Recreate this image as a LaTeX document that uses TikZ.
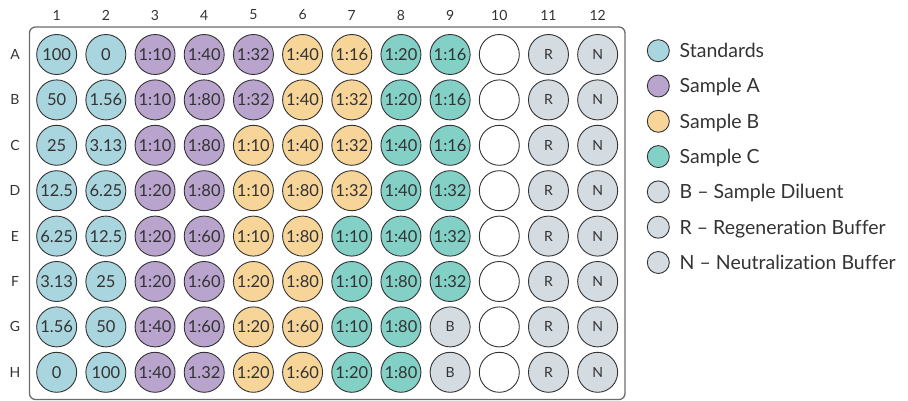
\documentclass[tikz,border=0pt]{standalone}
\usepackage{fontspec}
\setmainfont{Lato}[Ligatures={NoCommon}]
\definecolor{stdcol}{HTML}{A9D5DF}
\definecolor{sacol}{HTML}{B9A4CE}
\definecolor{sbcol}{HTML}{F7D598}
\definecolor{sccol}{HTML}{82D0C6}
\definecolor{bufcol}{HTML}{D4DBE1}
\definecolor{ink}{HTML}{333333}

\begin{document}
\begin{tikzpicture}[x=1pt, y=-1pt,
    well/.style={circle, draw=ink, line width=0.9pt, minimum size=40pt, inner sep=0pt,
      text=ink, font=\fontsize{16.5}{16.5}\selectfont},
    std/.style={well, fill=stdcol},
    sa/.style={well, fill=sacol},
    sb/.style={well, fill=sbcol},
    sc/.style={well, fill=sccol},
    buf/.style={well, fill=bufcol, font=\fontsize{14}{14}\selectfont},
    emptywell/.style={well, fill=white},
    key/.style={circle, draw=ink, line width=0.9pt, minimum size=22pt, inner sep=0pt},
    keytext/.style={anchor=base west, inner sep=0pt, text=ink, font=\fontsize{19.5}{19.5}\selectfont},
    lbl/.style={text=ink, font=\fontsize{14}{14}\selectfont}]
    \useasboundingbox (0,0) rectangle (908,401);

    % Plate outline
    \draw[rounded corners=6pt, line width=1.3pt, draw=gray!85!black] (29.5,27) rectangle (625,399.5);

    % Column and row labels
    \foreach \c in {1,...,12}
        \node[lbl] (col\c) at (7.5+49.18*\c, 15) {\c};
    \foreach \r/\y in {A/54.5, B/99.9, C/145.3, D/190.7, E/236.1, F/281.5, G/326.9, H/372.3}
        \node[lbl] (row\r) at (15, \y) {\r};

    % Wells, row by row
    \foreach \c/\t/\s in {1/100/std, 2/0/std, 3/1:10/sa, 4/1:40/sa, 5/1:32/sa, 6/1:40/sb,
        7/1:16/sb, 8/1:20/sc, 9/1:16/sc, 10//emptywell, 11/R/buf, 12/N/buf}
        \node[\s] (A\c) at (7.5+49.18*\c, 54.5) {\t};
    \foreach \c/\t/\s in {1/50/std, 2/1.56/std, 3/1:10/sa, 4/1:80/sa, 5/1:32/sa, 6/1:40/sb,
        7/1:32/sb, 8/1:20/sc, 9/1:16/sc, 10//emptywell, 11/R/buf, 12/N/buf}
        \node[\s] (B\c) at (7.5+49.18*\c, 99.9) {\t};
    \foreach \c/\t/\s in {1/25/std, 2/3.13/std, 3/1:10/sa, 4/1:80/sa, 5/1:10/sb, 6/1:40/sb,
        7/1:32/sb, 8/1:40/sc, 9/1:16/sc, 10//emptywell, 11/R/buf, 12/N/buf}
        \node[\s] (C\c) at (7.5+49.18*\c, 145.3) {\t};
    \foreach \c/\t/\s in {1/12.5/std, 2/6.25/std, 3/1:20/sa, 4/1:80/sa, 5/1:10/sb, 6/1:80/sb,
        7/1:32/sb, 8/1:40/sc, 9/1:32/sc, 10//emptywell, 11/R/buf, 12/N/buf}
        \node[\s] (D\c) at (7.5+49.18*\c, 190.7) {\t};
    \foreach \c/\t/\s in {1/6.25/std, 2/12.5/std, 3/1:20/sa, 4/1:60/sa, 5/1:10/sb, 6/1:80/sb,
        7/1:10/sc, 8/1:40/sc, 9/1:32/sc, 10//emptywell, 11/R/buf, 12/N/buf}
        \node[\s] (E\c) at (7.5+49.18*\c, 236.1) {\t};
    \foreach \c/\t/\s in {1/3.13/std, 2/25/std, 3/1:20/sa, 4/1:60/sa, 5/1:20/sb, 6/1:80/sb,
        7/1:10/sc, 8/1:80/sc, 9/1:32/sc, 10//emptywell, 11/R/buf, 12/N/buf}
        \node[\s] (F\c) at (7.5+49.18*\c, 281.5) {\t};
    \foreach \c/\t/\s in {1/1.56/std, 2/50/std, 3/1:40/sa, 4/1:60/sa, 5/1:20/sb, 6/1:60/sb,
        7/1:10/sc, 8/1:80/sc, 9/B/buf, 10//emptywell, 11/R/buf, 12/N/buf}
        \node[\s] (G\c) at (7.5+49.18*\c, 326.9) {\t};
    \foreach \c/\t/\s in {1/0/std, 2/100/std, 3/1:40/sa, 4/1.32/sa, 5/1:20/sb, 6/1:60/sb,
        7/1:20/sc, 8/1:80/sc, 9/B/buf, 10//emptywell, 11/R/buf, 12/N/buf}
        \node[\s] (H\c) at (7.5+49.18*\c, 372.3) {\t};

    % Legend
    \foreach \i/\col/\t in {1/stdcol/Standards, 2/sacol/Sample A, 3/sbcol/Sample B,
        4/sccol/Sample C, 5/bufcol/B \textendash{} Sample Diluent,
        6/bufcol/R \textendash{} Regeneration Buffer,
        7/bufcol/N \textendash{} Neutralization Buffer} {
        \node[key, fill=\col] (key\i) at (658.3, 15.4+35.3*\i) {};
        \node[keytext] (keytext\i) at (679.5, 22.4+35.3*\i) {\t};
    }
\end{tikzpicture}
\end{document}
